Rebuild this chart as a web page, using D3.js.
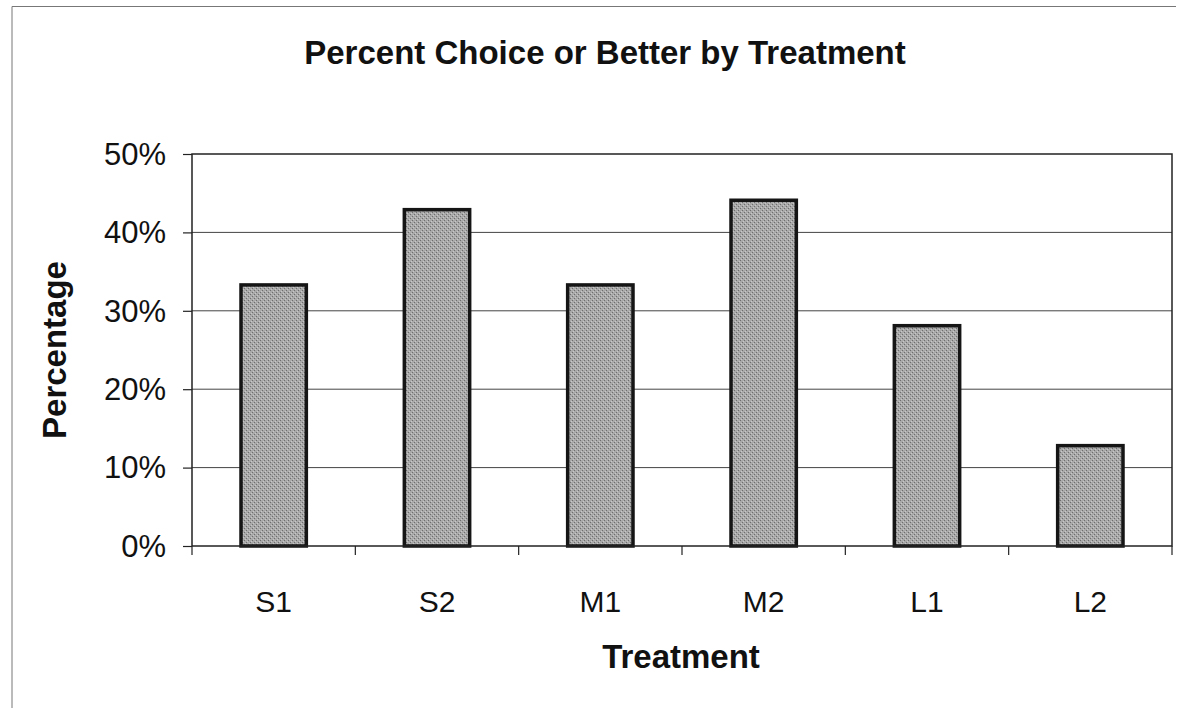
<!DOCTYPE html>
<html>
<head>
<meta charset="utf-8">
<script src="https://cdn.jsdelivr.net/npm/d3@7"></script>
<style>
  html, body { margin: 0; padding: 0; background: #fff; }
  svg { display: block; }
  text { font-family: "Liberation Sans", Arial, sans-serif; fill: #111; }
</style>
</head>
<body>
<svg id="chart" width="1181" height="708"></svg>
<script>
// Treatments and their share of "Choice or better" (percent)
const treatments = ["S1", "S2", "M1", "M2", "L1", "L2"];
const percentChoice = [33.3, 42.9, 33.3, 44.1, 28.1, 12.8];
const yTicks = [0, 10, 20, 30, 40, 50];

const chartTitle = "Percent Choice or Better by Treatment";
const xTitle = "Treatment";
const yTitle = "Percentage";

const W = 1181, H = 708;
const plot = { left: 192, top: 154, right: 1172, bottom: 546 };

const svg = d3.select("#chart");

// stippled gray fill for the bars
const defs = svg.append("defs");
const pat = defs.append("pattern")
  .attr("id", "stipple")
  .attr("width", 4).attr("height", 4)
  .attr("patternUnits", "userSpaceOnUse");
pat.append("rect").attr("width", 4).attr("height", 4).attr("fill", "#a9a9a9");
pat.append("rect").attr("x", 0).attr("y", 0).attr("width", 1).attr("height", 1).attr("fill", "#6e6e6e");
pat.append("rect").attr("x", 2).attr("y", 2).attr("width", 1).attr("height", 1).attr("fill", "#6e6e6e");
pat.append("rect").attr("x", 1).attr("y", 3).attr("width", 1).attr("height", 1).attr("fill", "#c8c8c8");
pat.append("rect").attr("x", 3).attr("y", 1).attr("width", 1).attr("height", 1).attr("fill", "#c8c8c8");

// outer chart frame (left and top edges)
svg.append("path")
  .attr("d", `M12,${H} L12,6.5 L1176,6.5`)
  .attr("fill", "none").attr("stroke", "#777").attr("stroke-width", 1);

const x = d3.scaleBand()
  .domain(treatments)
  .range([plot.left, plot.right])
  .paddingInner(0.6)
  .paddingOuter(0.3);

const y = d3.scaleLinear()
  .domain([0, 50])
  .range([plot.bottom, plot.top]);

// horizontal gridlines
svg.append("g")
  .selectAll("line")
  .data(yTicks.filter(t => t > 0 && t < 50))
  .join("line")
  .attr("x1", plot.left).attr("x2", plot.right)
  .attr("y1", d => y(d)).attr("y2", d => y(d))
  .attr("stroke", "#444").attr("stroke-width", 1);

// bars
svg.append("g")
  .selectAll("rect")
  .data(treatments)
  .join("rect")
  .attr("x", d => x(d))
  .attr("width", x.bandwidth())
  .attr("y", (d, i) => y(percentChoice[i]))
  .attr("height", (d, i) => y(0) - y(percentChoice[i]))
  .attr("fill", "url(#stipple)")
  .attr("stroke", "#151515")
  .attr("stroke-width", 3.5);

// plot frame
svg.append("rect")
  .attr("x", plot.left).attr("y", plot.top)
  .attr("width", plot.right - plot.left)
  .attr("height", plot.bottom - plot.top)
  .attr("fill", "none")
  .attr("stroke", "#222").attr("stroke-width", 1.5);

// y axis
const yAxis = d3.axisLeft(y)
  .tickValues(yTicks)
  .tickSize(9)
  .tickPadding(17)
  .tickFormat(d => d + "%");
const gy = svg.append("g")
  .attr("transform", `translate(${plot.left},0)`)
  .call(yAxis);
gy.select(".domain").remove();
gy.selectAll(".tick line").attr("stroke", "#222").attr("stroke-width", 1.2);
gy.selectAll(".tick text")
  .attr("font-size", 31)
  .attr("font-family", "'Liberation Sans', Arial, sans-serif")
  .attr("fill", "#111")
  .attr("dy", "0.33em");

// x axis: ticks sit on category boundaries
const bounds = d3.range(treatments.length + 1).map(i => plot.left + i * (plot.right - plot.left) / treatments.length);
svg.append("g")
  .selectAll("line")
  .data(bounds)
  .join("line")
  .attr("x1", d => d).attr("x2", d => d)
  .attr("y1", plot.bottom).attr("y2", plot.bottom + 9)
  .attr("stroke", "#222").attr("stroke-width", 1.2);

svg.append("g")
  .selectAll("text")
  .data(treatments)
  .join("text")
  .attr("x", d => x(d) + x.bandwidth() / 2)
  .attr("y", 612)
  .attr("text-anchor", "middle")
  .attr("font-size", 30)
  .text(d => d);

// titles
svg.append("text")
  .attr("x", 605).attr("y", 64)
  .attr("text-anchor", "middle")
  .attr("font-size", 33).attr("font-weight", "bold")
  .text(chartTitle);

svg.append("text")
  .attr("x", 681).attr("y", 668)
  .attr("text-anchor", "middle")
  .attr("font-size", 33).attr("font-weight", "bold")
  .text(xTitle);

svg.append("text")
  .attr("transform", "translate(66,350) rotate(-90)")
  .attr("text-anchor", "middle")
  .attr("font-size", 33).attr("font-weight", "bold")
  .text(yTitle);
</script>
</body>
</html>
